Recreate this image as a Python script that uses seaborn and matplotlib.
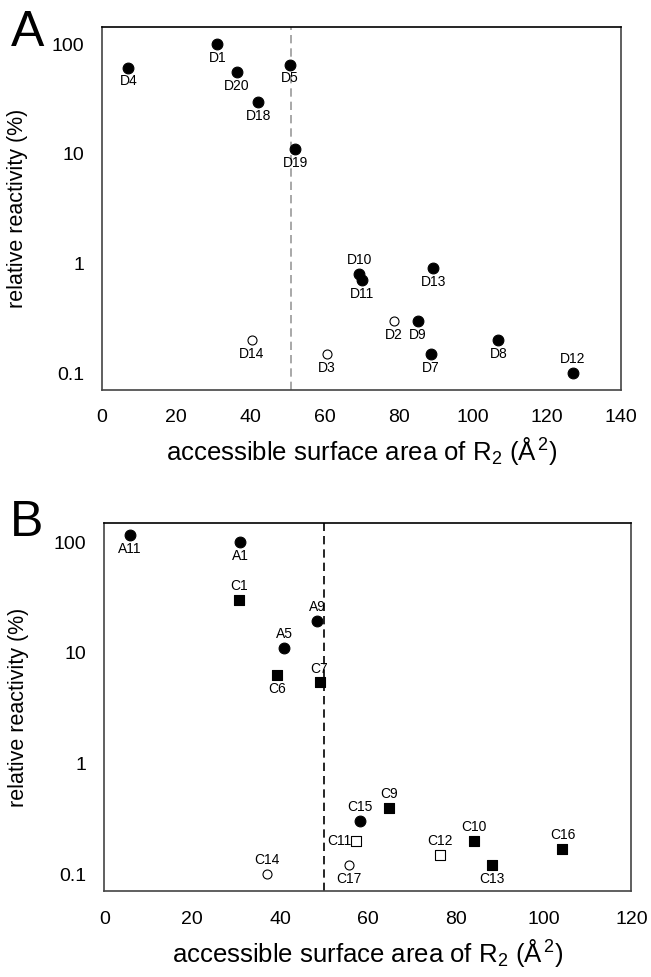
import numpy as np
import pandas as pd
import matplotlib
matplotlib.use("Agg")
import matplotlib.pyplot as plt
import seaborn as sns

sns.set_style("white")
plt.rcParams['font.family'] = ['Liberation Sans', 'DejaVu Sans']
plt.rcParams['mathtext.fontset'] = 'custom'
plt.rcParams['mathtext.rm'] = 'Liberation Sans'
plt.rcParams['mathtext.it'] = 'Liberation Sans:italic'
plt.rcParams['text.color'] = 'black'
plt.rcParams['axes.labelcolor'] = 'black'
plt.rcParams['xtick.color'] = 'black'
plt.rcParams['ytick.color'] = 'black'

# ---- panel A data ----
a_labels = ['D4', 'D1', 'D20', 'D18', 'D5', 'D19', 'D14', 'D3', 'D10', 'D11',
            'D13', 'D2', 'D9', 'D7', 'D8', 'D12']
a_area = [7.1, 31.1, 36.4, 42.2, 50.6, 52.1, 40.4, 60.6, 69.4, 70.1,
          89.4, 78.8, 85.1, 88.8, 106.9, 127.0]
a_react = [61, 100, 56, 29.5, 65, 11, 0.2, 0.15, 0.8, 0.7,
           0.9, 0.3, 0.3, 0.15, 0.2, 0.1]
a_kind = ['filled circle', 'filled circle', 'filled circle', 'filled circle',
          'filled circle', 'filled circle', 'open circle', 'open circle',
          'filled circle', 'filled circle', 'filled circle', 'open circle',
          'filled circle', 'filled circle', 'filled circle', 'filled circle']
a_place = ['below', 'below', 'below', 'below', 'below', 'below', 'below', 'below',
           'above', 'below', 'below', 'below', 'below', 'below', 'below', 'above']
a_cutoff = 51

# ---- panel B data ----
b_labels = ['A11', 'A1', 'C1', 'A9', 'A5', 'C6', 'C7', 'C14', 'C15', 'C9',
            'C11', 'C17', 'C12', 'C10', 'C13', 'C16']
b_area = [5.9, 30.9, 30.7, 48.4, 40.9, 39.4, 49.0, 37.0, 58.2, 64.9,
          57.3, 55.7, 76.5, 84.2, 88.2, 104.3]
b_react = [117, 100, 30, 19.5, 11, 6.3, 5.4, 0.1, 0.3, 0.4,
           0.2, 0.12, 0.15, 0.2, 0.12, 0.17]
b_kind = ['filled circle', 'filled circle', 'filled square', 'filled circle',
          'filled circle', 'filled square', 'filled square', 'open circle',
          'filled circle', 'filled square', 'open square', 'open circle',
          'open square', 'filled square', 'filled square', 'filled square']
b_place = ['below', 'below', 'above', 'above', 'above', 'below', 'above', 'above',
           'above', 'above', 'left', 'below', 'above', 'above', 'below', 'above']
b_cutoff = 50

markers = {'filled circle': 'o', 'open circle': 'o',
           'filled square': 's', 'open square': 's'}
faces = {'filled circle': 'black', 'open circle': 'white',
         'filled square': 'black', 'open square': 'white'}
sizes = {'filled circle': 60, 'open circle': 42,
         'filled square': 50, 'open square': 42}
offsets = {'below': (0, -10, 'center', 'center'),
           'above': (0, 10, 'center', 'center'),
           'left': (-3, 0, 'right', 'center')}


def draw_panel(ax, labels, area, react, kind, place, cutoff, xmax, ymax, dash_color):
    df = pd.DataFrame({'label': labels, 'area': area, 'react': react, 'kind': kind})
    for k, sub in df.groupby('kind'):
        sns.scatterplot(data=sub, x='area', y='react', ax=ax, marker=markers[k],
                        s=sizes[k], color=faces[k], edgecolor='black',
                        linewidth=0.8, zorder=3, legend=False)
    for lab, x, y, p in zip(labels, area, react, place):
        dx, dy, ha, va = offsets[p]
        ax.annotate(lab, (x, y), xytext=(dx, dy), textcoords='offset points',
                    ha=ha, va=va, fontsize=10)
    ax.axvline(cutoff, color=dash_color, ls=(0, (5, 3)), lw=1.2, zorder=1)
    ax.set_yscale('log')
    ax.set_xlim(0, xmax)
    ax.set_ylim(0.07, ymax)
    ax.set_xticks(np.arange(0, xmax + 1, 20))
    ax.set_yticks([0.1, 1, 10, 100])
    ax.set_yticklabels(['0.1', '1', '10', '100'])
    ax.minorticks_off()
    ax.tick_params(axis='both', which='major', labelsize=14, length=5,
                   width=1, direction='out', pad=8)
    ax.tick_params(axis='both', color='#444444')
    ax.tick_params(axis='x', pad=9)
    for side in ['left', 'right', 'bottom']:
        ax.spines[side].set_color('#444444')
        ax.spines[side].set_linewidth(1.2)
    ax.spines['top'].set_color('black')
    ax.spines['top'].set_linewidth(1.2)
    ax.set_xlabel(r'accessible surface area of R$_2$ ($\mathrm{\AA}^{\,2}$)', fontsize=18.5)
    ax.set_ylabel('relative reactivity (%)', fontsize=15.5)
    ax.xaxis.set_label_coords(0.5, -0.125)
    ax.yaxis.set_label_coords(-0.142, 0.5)


fig = plt.figure(figsize=(6.51, 9.77), dpi=100)
ax1 = fig.add_axes([0.1567, 0.6008, 0.7973, 0.3716])
ax2 = fig.add_axes([0.1602, 0.0877, 0.8098, 0.3773])

draw_panel(ax1, a_labels, a_area, a_react, a_kind, a_place, a_cutoff, 140, 143, '#999999')
draw_panel(ax2, b_labels, b_area, b_react, b_kind, b_place, b_cutoff, 120, 150, 'black')

fig.text(0.043, 0.966, 'A', fontsize=36, ha='center', va='center')
fig.text(0.041, 0.465, 'B', fontsize=36, ha='center', va='center')

fig.savefig('out.png', dpi=100)
